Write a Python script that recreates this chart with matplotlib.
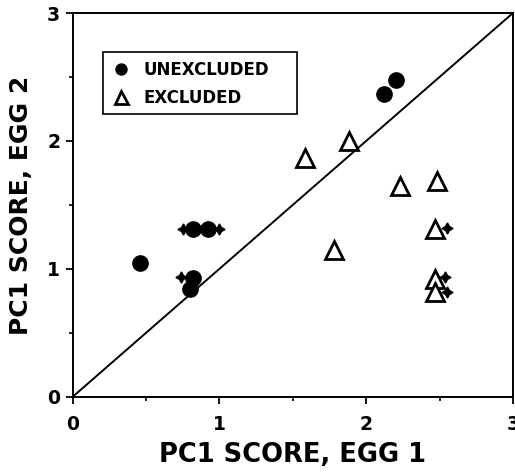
import matplotlib.pyplot as plt
import numpy as np
from matplotlib.patches import Rectangle
from matplotlib.ticker import MultipleLocator

plt.rcParams['font.family'] = ['DejaVu Sans']
plt.rcParams['font.weight'] = 'bold'

# unexcluded eggs (filled circles)
unexcl_x = [0.46, 0.82, 0.92, 0.82, 0.80, 2.12, 2.20]
unexcl_y = [1.05, 1.31, 1.31, 0.93, 0.84, 2.37, 2.48]

# excluded eggs (open triangles)
excl_x = [1.58, 1.88, 2.23, 2.48, 1.78, 2.47, 2.47, 2.47]
excl_y = [1.87, 2.00, 1.65, 1.69, 1.15, 1.31, 0.92, 0.82]

# small star flags next to some points
flag_x = [0.75, 1.00, 0.74, 2.55, 2.54, 2.55]
flag_y = [1.31, 1.31, 0.94, 1.32, 0.94, 0.82]

fig = plt.figure(figsize=(5.15, 4.73), dpi=100)
ax = fig.add_axes([0.141, 0.161, 0.855, 0.8115])

ax.plot([0, 3], [0, 3], color='black', lw=1.4, zorder=1)
ax.plot(flag_x, flag_y, linestyle='none', marker=(4, 1, 0), markersize=8,
        color='black', zorder=2)
ax.plot(unexcl_x, unexcl_y, linestyle='none', marker='o', markersize=11,
        color='black', label='UNEXCLUDED', zorder=3)
ax.plot(excl_x, excl_y, linestyle='none', marker='^', markersize=13,
        markerfacecolor='white', markeredgecolor='black', markeredgewidth=2,
        label='EXCLUDED', zorder=3)

ax.set_xlim(0, 3)
ax.set_ylim(0, 3)
ax.xaxis.set_major_locator(MultipleLocator(1))
ax.xaxis.set_minor_locator(MultipleLocator(0.5))
ax.yaxis.set_major_locator(MultipleLocator(1))
ax.yaxis.set_minor_locator(MultipleLocator(0.5))
ax.tick_params(which='major', direction='out', length=5, width=1.3,
               labelsize=13.5)
ax.tick_params(which='minor', direction='out', length=3, width=1.2)
ax.tick_params(axis='x', which='major', pad=8)
ax.tick_params(axis='y', which='major', pad=4)
for lab in ax.get_xticklabels() + ax.get_yticklabels():
    lab.set_fontweight('bold')
for sp in ax.spines.values():
    sp.set_linewidth(1.4)

ax.set_xlabel('PC1 SCORE, EGG 1', fontsize=18.5, fontweight='bold', labelpad=6)
ax.set_ylabel('PC1 SCORE, EGG 2', fontsize=18, fontweight='bold', labelpad=10)

# legend box
ax.add_patch(Rectangle((0.069, 0.737), 0.44, 0.161, transform=ax.transAxes,
                       facecolor='white', edgecolor='black', lw=1.2, zorder=4))
leg = ax.legend(loc='upper left', bbox_to_anchor=(0.092, 0.875),
                borderaxespad=0, borderpad=0, fontsize=12, frameon=False,
                handletextpad=0.9, labelspacing=0.6, handlelength=0.9,
                markerscale=0.72)
leg.set_zorder(5)
for t in leg.get_texts():
    t.set_fontweight('bold')

fig.savefig('out.png', dpi=100)
